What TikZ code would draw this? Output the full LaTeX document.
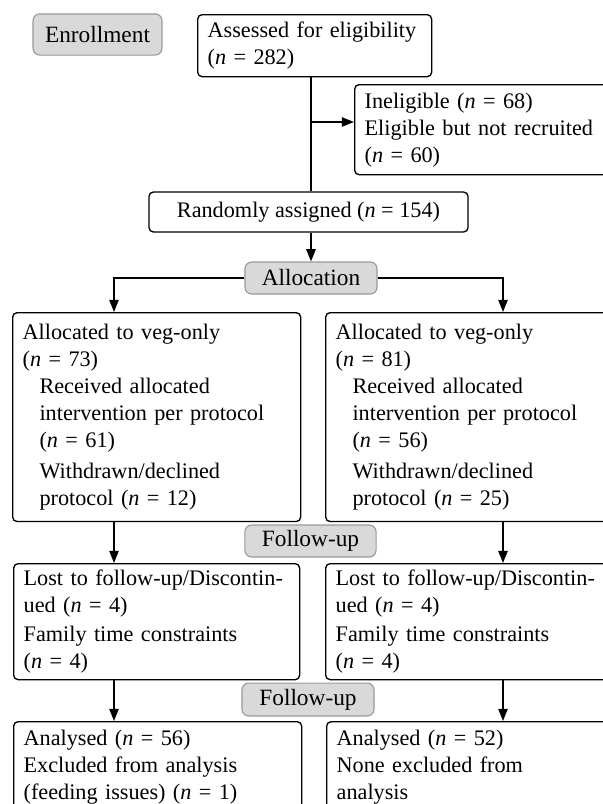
\documentclass[tikz,border=0pt]{standalone}
\usepackage{fontspec}
\setmainfont{Liberation Serif}
\usetikzlibrary{arrows.meta}
\newcommand{\nval}[1]{(\textit{n} = #1)}
\newcommand{\subln}{\hspace*{7.6pt}}
\tikzset{
  box/.style={draw, line width=0.6pt, rounded corners=2pt, anchor=north west,
    align=left, inner xsep=4.5pt, inner ysep=0pt, font=\fontsize{10}{12.15}\selectfont},
  phase/.style={draw=gray!80, fill=gray!30, line width=0.5pt, rounded corners=3pt,
    inner sep=0pt, font=\fontsize{10.5}{12.6}\selectfont},
  link/.style={line width=0.75pt},
  arr/.style={link, -{Triangle[length=5.5pt,width=4.2pt]}},
}
\begin{document}
\begin{tikzpicture}[x=0.45pt, y=-0.45pt]
\clip (0,0) rectangle (603,804);

% enrollment
\node[phase, minimum width=58pt, minimum height=18.5pt] (enrol) at (97.5,34.5) {Enrollment};
\node[box, text width=96.3pt, minimum height=27.9pt] (assess) at (197,14)
  {Assessed for eligibility\\\nval{282}};
\node[box, text width=111.6pt, minimum height=40.5pt] (inel) at (354,84)
  {Ineligible \nval{68}\\Eligible but not recruited\\\nval{60}};
\node[box, anchor=center, align=center, minimum width=143.6pt, minimum height=18pt] (rand) at (308.5,212)
  {Randomly assigned \nval{154}};

% allocation
\node[phase, minimum width=59.4pt, minimum height=14.4pt] (alloc) at (311,278) {Allocation};
\node[box, text width=120.6pt, minimum height=94pt] (grpL) at (12,312)
  {Allocated to veg-only\\\nval{73}\\
   \subln Received allocated\\\subln intervention per protocol\\\subln\nval{61}\\[2pt]
   \subln Withdrawn/declined\\\subln protocol \nval{12}};
\node[box, text width=120.6pt, minimum height=94pt] (grpR) at (325,312)
  {Allocated to veg-only\\\nval{81}\\
   \subln Received allocated\\\subln intervention per protocol\\\subln\nval{56}\\[2pt]
   \subln Withdrawn/declined\\\subln protocol \nval{25}};

% follow-up
\node[phase, minimum width=59pt, minimum height=14.4pt] (fupA) at (310.5,541) {Follow-up};
\node[box, text width=119.7pt, minimum height=52.2pt] (lostL) at (13,563)
  {Lost to follow-up/Discontin-\\ued \nval{4}\\[1pt]Family time constraints\\\nval{4}};
\node[box, text width=119.7pt, minimum height=52.2pt] (lostR) at (325,563)
  {Lost to follow-up/Discontin-\\ued \nval{4}\\[1pt]Family time constraints\\\nval{4}};

% analysis
\node[phase, minimum width=59.4pt, minimum height=14.8pt] (fupB) at (308,699.5) {Follow-up};
\node[box, text width=120.6pt, minimum height=41pt] (anaL) at (13,721)
  {Analysed \nval{56}\\Excluded from analysis\\(feeding issues) \nval{1}};
\node[box, text width=120.6pt, minimum height=41pt] (anaR) at (326,721)
  {Analysed \nval{52}\\None excluded from\\analysis};

\coordinate (trunk) at (311,0);
\coordinate (branch) at (311,122);
\coordinate (colL) at (114,0);
\coordinate (colR) at (503,0);

\draw[link] (trunk |- assess.south) -- (trunk |- rand.north);
\draw[arr] (branch) -- (branch -| inel.west);
\draw[arr] (trunk |- rand.south) -- (trunk |- alloc.north);
\draw[arr] (alloc.west) -| (colL |- grpL.north);
\draw[arr] (alloc.east) -| (colR |- grpR.north);
\draw[arr] (colL |- grpL.south) -- (colL |- lostL.north);
\draw[arr] (colR |- grpR.south) -- (colR |- lostR.north);
\draw[arr] (colL |- lostL.south) -- (colL |- anaL.north);
\draw[arr] (colR |- lostR.south) -- (colR |- anaR.north);
\end{tikzpicture}
\end{document}
